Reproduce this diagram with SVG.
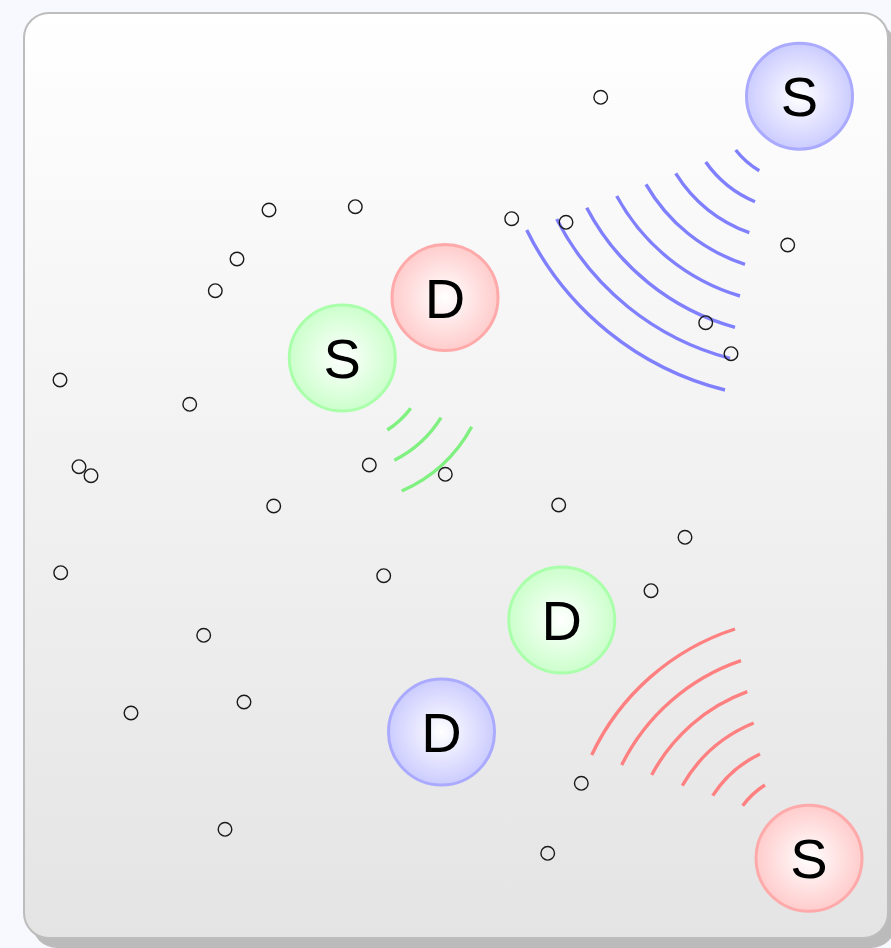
<svg xmlns="http://www.w3.org/2000/svg" width="891" height="948" viewBox="0 0 891 948">
  <defs>
    <linearGradient id="panelGrad" x1="0" y1="0" x2="0" y2="1">
      <stop offset="0" stop-color="#ffffff"/>
      <stop offset="1" stop-color="#e4e4e4"/>
    </linearGradient>
    <radialGradient id="gBlue" cx="0.5" cy="0.5" r="0.5">
      <stop offset="0" stop-color="#ffffff"/>
      <stop offset="1" stop-color="#ccccff"/>
    </radialGradient>
    <radialGradient id="gRed" cx="0.5" cy="0.5" r="0.5">
      <stop offset="0" stop-color="#ffffff"/>
      <stop offset="1" stop-color="#ffcccc"/>
    </radialGradient>
    <radialGradient id="gGreen" cx="0.5" cy="0.5" r="0.5">
      <stop offset="0" stop-color="#ffffff"/>
      <stop offset="1" stop-color="#ccffcc"/>
    </radialGradient>
  </defs>
  <style>
    .node-blue { fill: url(#gBlue); stroke: #aaaaff; stroke-width: 3; }
    .node-red { fill: url(#gRed); stroke: #ffaaaa; stroke-width: 3; }
    .node-green { fill: url(#gGreen); stroke: #aaffaa; stroke-width: 3; }
    .label { font-family: "Liberation Sans", Arial, sans-serif; font-size: 56px; fill: #000; text-anchor: middle; }
    .wave { fill: none; stroke-width: 3.4; }
    .wave-blue { stroke: #8080ff; }
    .wave-red { stroke: #ff8080; }
    .wave-green { stroke: #80f080; }
    .dot { fill: none; stroke: #1a1a1a; stroke-width: 1.4; }
  </style>

  <rect x="0" y="0" width="891" height="948" fill="#f8f8ff"/>
  <rect x="32" y="23" width="864" height="925" rx="25" ry="25" fill="#bbbbbb"/>
  <rect x="24" y="13" width="864" height="925" rx="25" ry="25" fill="url(#panelGrad)" stroke="#bdbdbd" stroke-width="2"/>

  <g id="connectors">
    <g id="waves-blue" class="wave wave-blue">
      <path d="M735.7 150 A84 84 0 0 0 759.3 170.7"/>
      <path d="M705.7 162 A114.5 114.5 0 0 0 755 201.7"/>
      <path d="M675.7 173.3 A145.5 145.5 0 0 0 749.3 232.7"/>
      <path d="M646 184.3 A177 177 0 0 0 745 264.3"/>
      <path d="M616.7 196 A208 208 0 0 0 740 296"/>
      <path d="M586.7 207.7 A240 240 0 0 0 735 327.3"/>
      <path d="M556.7 219 A271.5 271.5 0 0 0 730 358.3"/>
      <path d="M526.7 230 A303 303 0 0 0 725 390"/>
    </g>
    <g id="waves-green" class="wave wave-green">
      <path d="M410.7 408.3 A86 86 0 0 1 387.3 430"/>
      <path d="M441 417.7 A116 116 0 0 1 394.3 460.3"/>
      <path d="M471.7 426.7 A147 147 0 0 1 401.7 491"/>
    </g>
    <g id="waves-red" class="wave wave-red">
      <path d="M765 785 A84 84 0 0 0 742.7 805.7"/>
      <path d="M760 754 A114 114 0 0 0 712.7 795.7"/>
      <path d="M753.7 723 A145 145 0 0 0 682.3 785.7"/>
      <path d="M747.3 691.7 A177 177 0 0 0 651.7 775"/>
      <path d="M741 660.7 A208 208 0 0 0 621.7 765"/>
      <path d="M735 629 A240 240 0 0 0 591.7 755"/>
    </g>
  </g>

  <g id="dots" class="dot">
    <circle cx="600.7" cy="97.3" r="6.8"/>
    <circle cx="269" cy="210" r="6.8"/>
    <circle cx="355.3" cy="206.7" r="6.8"/>
    <circle cx="511.7" cy="218.7" r="6.8"/>
    <circle cx="566" cy="222.3" r="6.8"/>
    <circle cx="787.7" cy="245" r="6.8"/>
    <circle cx="237" cy="259" r="6.8"/>
    <circle cx="215.3" cy="290.7" r="6.8"/>
    <circle cx="705.7" cy="322.7" r="6.8"/>
    <circle cx="731" cy="353.7" r="6.8"/>
    <circle cx="60" cy="380" r="6.8"/>
    <circle cx="189.7" cy="404.3" r="6.8"/>
    <circle cx="79" cy="466.7" r="6.8"/>
    <circle cx="91" cy="475.7" r="6.8"/>
    <circle cx="369.3" cy="465" r="6.8"/>
    <circle cx="445.3" cy="474.3" r="6.8"/>
    <circle cx="273.7" cy="506" r="6.8"/>
    <circle cx="558.7" cy="505" r="6.8"/>
    <circle cx="685" cy="537.3" r="6.8"/>
    <circle cx="60.7" cy="572.7" r="6.8"/>
    <circle cx="383.7" cy="575.7" r="6.8"/>
    <circle cx="651" cy="590.7" r="6.8"/>
    <circle cx="203.7" cy="635.3" r="6.8"/>
    <circle cx="131" cy="713" r="6.8"/>
    <circle cx="244" cy="702" r="6.8"/>
    <circle cx="581.3" cy="783.3" r="6.8"/>
    <circle cx="225" cy="829.3" r="6.8"/>
    <circle cx="547.7" cy="853.3" r="6.8"/>
  </g>

  <g id="node-blue-S">
    <circle class="node-blue" cx="799.5" cy="96.2" r="53"/>
    <text class="label" x="799.5" y="116">S</text>
  </g>
  <g id="node-red-D">
    <circle class="node-red" cx="445" cy="297.5" r="53"/>
    <text class="label" x="445" y="317.5">D</text>
  </g>
  <g id="node-green-S">
    <circle class="node-green" cx="342.3" cy="358" r="53"/>
    <text class="label" x="342.3" y="378">S</text>
  </g>
  <g id="node-green-D">
    <circle class="node-green" cx="561.7" cy="620" r="53"/>
    <text class="label" x="561.7" y="640">D</text>
  </g>
  <g id="node-blue-D">
    <circle class="node-blue" cx="441.5" cy="732" r="53"/>
    <text class="label" x="441.5" y="752">D</text>
  </g>
  <g id="node-red-S">
    <circle class="node-red" cx="809" cy="858.3" r="53"/>
    <text class="label" x="809" y="878.3">S</text>
  </g>
</svg>
